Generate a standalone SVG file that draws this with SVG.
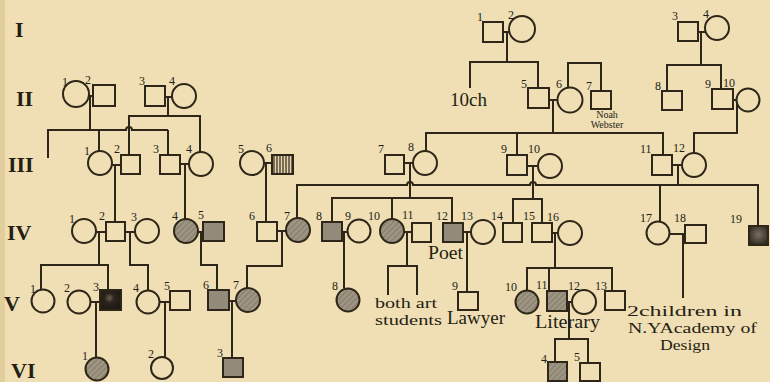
<svg xmlns="http://www.w3.org/2000/svg" width="770" height="382" viewBox="0 0 770 382">
<style>
.c{fill:none;stroke:#2e2618;stroke-width:2}
.o{fill:#f0dfb4;stroke:#2e2618;stroke-width:2}
.h{fill:url(#hatch);stroke:#2e2618;stroke-width:2}
.gr{fill:#938a7a;stroke:#2e2618;stroke-width:2}
.vh{fill:url(#vhatch);stroke:#2e2618;stroke-width:2}
.bk{fill:url(#dark);stroke:#2e2618;stroke-width:2}
.n{font-family:"Liberation Serif",serif;font-size:12px;fill:#241e14}
.g{font-family:"Liberation Serif",serif;font-size:22px;font-weight:bold;fill:#241e14}
.t{font-family:"Liberation Serif",serif;font-size:19px;fill:#241e14}
.m{font-family:"Liberation Serif",serif;font-size:15px;fill:#241e14}
.s{font-family:"Liberation Serif",serif;font-size:10px;fill:#241e14;text-anchor:middle}
</style>
<defs>
<pattern id="hatch" patternUnits="userSpaceOnUse" width="4" height="4" patternTransform="rotate(45)">
<rect width="4" height="4" fill="#8e8575"/>
<line x1="1" y1="0" x2="1" y2="4" stroke="#b3a992" stroke-width="1"/>
</pattern>
<pattern id="vhatch" patternUnits="userSpaceOnUse" width="3" height="3">
<rect width="3" height="3" fill="#e6d6ae"/>
<line x1="1" y1="0" x2="1" y2="3" stroke="#2e2618" stroke-width="1.2"/>
</pattern>
<radialGradient id="dark" cx="0.45" cy="0.4" r="0.6">
<stop offset="0" stop-color="#6a6152"/>
<stop offset="0.4" stop-color="#2a241b"/>
<stop offset="1" stop-color="#1e1a14"/>
</radialGradient>
<radialGradient id="dark2" cx="0.5" cy="0.45" r="0.6">
<stop offset="0" stop-color="#7a7060"/>
<stop offset="1" stop-color="#2e281f"/>
</radialGradient>
</defs>
<rect width="770" height="382" fill="#f0dfb4"/>
<rect width="5" height="382" fill="#e2cd9c"/>

<g id="generation-labels">
<text class="g" x="15" y="37">I</text>
<text class="g" x="16" y="106">II</text>
<text class="g" x="8" y="172">III</text>
<text class="g" x="7" y="240">IV</text>
<text class="g" x="4" y="311" font-size="25">V</text>
<text class="g" x="11" y="378">VI</text>
</g>

<g id="connectors" class="c">
<path d="M503,32 H509 M507,32 V62 M470,88 V62 H538 V88"/>
<path d="M698,32 H705 M701,32 V65 M667,91 V65 H721 V88"/>
<path d="M89,96 H93 M90,96 V130 M48,158 V130 H126 a3,3 0 0 1 6,0 H168 M99,130 V151 M168,130 V155"/>
<path d="M165,97 H172 M168,97 V116 M129,155 V116 H200 V152"/>
<path d="M549,100 H557.5 M553,100 V133 M426,151 V133 H663 V155 M517,133 V155"/>
<path d="M568,87.5 V63 H601 V91"/>
<path d="M733,100 H736.5 M737,100 V133 H694 V153"/>
<path d="M112,165 H121 M115,165 V222"/>
<path d="M180,164 H189 M185,164 V219"/>
<path d="M264,163 H272 M266,163 V222"/>
<path d="M404,163 H413 M410,163 V198 M332,222 V198 H452 V223 M392,198 V219"/>
<path d="M527,166 H538 M533,166 V199 M513,223 V199 H542 V223"/>
<path d="M672,165 H682 M678,165 V185 M297,218 V185 H407 a3,3 0 0 1 6,0 H530 a3,3 0 0 1 6,0 H758 V226 M660,185 V221.5"/>
<path d="M96,232 H106 M99,232 V265 M41,289.5 V265 H108 V290"/>
<path d="M125,232 H135 M130,232 V265 H148 V290.5"/>
<path d="M198,232 H203 M201,232 V265 H217 V290"/>
<path d="M277,231 H286 M282,231 V266 H247 V288"/>
<path d="M342,232 H347.5 M344,232 V288.5"/>
<path d="M404,232 H412 M407,232 V266 M388,295 V266 H417 V295"/>
<path d="M463,232 H471 M467,232 V292"/>
<path d="M552,233 H558 M555,233 V268 M527,290.5 V268 H612 V291 M549,268 V291"/>
<path d="M669.5,234 H685 M683,234 V298"/>
<path d="M90.5,302 H100 M96,302 V357"/>
<path d="M159.5,302 H170 M165,302 V357"/>
<path d="M229,301 H236 M232,301 V358"/>
<path d="M567,302 H572 M569,302 V339 M555,362 V339 H588 V363"/>
</g>

<g id="I-1"><rect class="o" x="483" y="22" width="20" height="20"/><text class="n" x="477" y="21">1</text></g>
<g id="I-2"><circle class="o" cx="522" cy="29" r="13"/><text class="n" x="508" y="19">2</text></g>
<g id="I-3"><rect class="o" x="678" y="22" width="20" height="19"/><text class="n" x="672" y="20">3</text></g>
<g id="I-4"><circle class="o" cx="717" cy="28" r="12"/><text class="n" x="703" y="18">4</text></g>

<g id="II-1"><circle class="o" cx="76" cy="94" r="13"/><text class="n" x="62" y="86">1</text></g>
<g id="II-2"><rect class="o" x="93" y="85" width="22" height="21"/><text class="n" x="85" y="84">2</text></g>
<g id="II-3"><rect class="o" x="145" y="86" width="20" height="20"/><text class="n" x="139" y="85">3</text></g>
<g id="II-4"><circle class="o" cx="184" cy="96" r="12"/><text class="n" x="169" y="85">4</text></g>
<g id="II-10ch"><text class="t" x="450" y="106" textLength="37" lengthAdjust="spacingAndGlyphs">10ch</text></g>
<g id="II-5"><rect class="o" x="528" y="88" width="21" height="20"/><text class="n" x="521" y="88">5</text></g>
<g id="II-6"><circle class="o" cx="570" cy="100" r="12.5"/><text class="n" x="556" y="88">6</text></g>
<g id="II-7"><rect class="o" x="591" y="91" width="20" height="18"/><text class="n" x="586" y="90">7</text>
<text class="s" x="607" y="118">Noah</text><text class="s" x="607" y="128">Webster</text></g>
<g id="II-8"><rect class="o" x="662" y="91" width="20" height="19"/><text class="n" x="655" y="90">8</text></g>
<g id="II-9"><rect class="o" x="712" y="89" width="21" height="20"/><text class="n" x="705" y="88">9</text></g>
<g id="II-10"><circle class="o" cx="748" cy="100" r="11.5"/><text class="n" x="723" y="87">10</text></g>

<g id="III-1"><circle class="o" cx="100" cy="163" r="12"/><text class="n" x="84" y="155">1</text></g>
<g id="III-2"><rect class="o" x="121" y="155" width="19" height="19"/><text class="n" x="114" y="153">2</text></g>
<g id="III-3"><rect class="o" x="160" y="155" width="20" height="19"/><text class="n" x="153" y="153">3</text></g>
<g id="III-4"><circle class="o" cx="201" cy="164" r="12"/><text class="n" x="186" y="153">4</text></g>
<g id="III-5"><circle class="o" cx="252" cy="163" r="12"/><text class="n" x="238" y="153">5</text></g>
<g id="III-6"><rect class="vh" x="272" y="155" width="21" height="19"/><text class="n" x="266" y="152">6</text></g>
<g id="III-7"><rect class="o" x="385" y="155" width="19" height="19"/><text class="n" x="378" y="153">7</text></g>
<g id="III-8"><circle class="o" cx="425" cy="163" r="12"/><text class="n" x="408" y="151">8</text></g>
<g id="III-9"><rect class="o" x="507" y="155" width="20" height="20"/><text class="n" x="501" y="153">9</text></g>
<g id="III-10"><circle class="o" cx="550" cy="166" r="12"/><text class="n" x="528" y="153">10</text></g>
<g id="III-11"><rect class="o" x="652" y="155" width="20" height="20"/><text class="n" x="640" y="153">11</text></g>
<g id="III-12"><circle class="o" cx="694" cy="165" r="12"/><text class="n" x="673" y="152">12</text></g>

<g id="IV-1"><circle class="o" cx="84" cy="231" r="12"/><text class="n" x="69" y="223">1</text></g>
<g id="IV-2"><rect class="o" x="106" y="222" width="19" height="19"/><text class="n" x="99" y="220">2</text></g>
<g id="IV-3"><circle class="o" cx="147" cy="231" r="12"/><text class="n" x="131" y="221">3</text></g>
<g id="IV-4"><circle class="h" cx="186" cy="231" r="12"/><text class="n" x="172" y="220">4</text></g>
<g id="IV-5"><rect class="gr" x="203" y="222" width="21" height="19"/><text class="n" x="198" y="219">5</text></g>
<g id="IV-6"><rect class="o" x="257" y="222" width="20" height="19"/><text class="n" x="249" y="220">6</text></g>
<g id="IV-7"><circle class="h" cx="298" cy="230" r="12"/><text class="n" x="284" y="220">7</text></g>
<g id="IV-8"><rect class="gr" x="322" y="222" width="20" height="19"/><text class="n" x="316" y="220">8</text></g>
<g id="IV-9"><circle class="o" cx="359" cy="231" r="11.5"/><text class="n" x="345" y="220">9</text></g>
<g id="IV-10"><circle class="h" cx="392" cy="231" r="12"/><text class="n" x="368" y="220">10</text></g>
<g id="IV-11"><rect class="o" x="412" y="223" width="19" height="19"/><text class="n" x="402" y="219">11</text></g>
<g id="IV-12"><rect class="gr" x="443" y="223" width="20" height="19"/><text class="n" x="436" y="220">12</text>
<text class="t" x="428" y="259" textLength="35" lengthAdjust="spacingAndGlyphs">Poet</text></g>
<g id="IV-13"><circle class="o" cx="483" cy="232" r="12"/><text class="n" x="461" y="220">13</text></g>
<g id="IV-14"><rect class="o" x="503" y="223" width="19" height="19"/><text class="n" x="491" y="220">14</text></g>
<g id="IV-15"><rect class="o" x="532" y="223" width="20" height="19"/><text class="n" x="523" y="220">15</text></g>
<g id="IV-16"><circle class="o" cx="570" cy="233" r="12"/><text class="n" x="547" y="221">16</text></g>
<g id="IV-17"><circle class="o" cx="658" cy="233" r="11.5"/><text class="n" x="640" y="222">17</text></g>
<g id="IV-18"><rect class="o" x="685" y="225" width="21" height="18"/><text class="n" x="674" y="222">18</text></g>
<g id="IV-19"><rect fill="url(#dark2)" stroke="#2e2618" stroke-width="2" x="749" y="226" width="19" height="19"/><text class="n" x="730" y="223">19</text></g>

<g id="V-1"><circle class="o" cx="43" cy="301" r="11.5"/><text class="n" x="30" y="293">1</text></g>
<g id="V-2"><circle class="o" cx="79" cy="302" r="11.5"/><text class="n" x="64" y="292">2</text></g>
<g id="V-3"><rect class="bk" x="100" y="290" width="21" height="20"/><text class="n" x="93" y="291">3</text></g>
<g id="V-4"><circle class="o" cx="148" cy="302" r="11.5"/><text class="n" x="133" y="292">4</text></g>
<g id="V-5"><rect class="o" x="170" y="291" width="20" height="19"/><text class="n" x="164" y="290">5</text></g>
<g id="V-6"><rect class="gr" x="208" y="290" width="21" height="20"/><text class="n" x="203" y="289">6</text></g>
<g id="V-7"><circle class="h" cx="248" cy="300" r="12"/><text class="n" x="233" y="289">7</text></g>
<g id="V-8"><circle class="h" cx="348" cy="300" r="11.5"/><text class="n" x="332" y="290">8</text></g>
<g id="V-both-art-students"><text class="m" x="375" y="308" textLength="62" lengthAdjust="spacingAndGlyphs">both art</text>
<text class="m" x="375" y="325" textLength="67" lengthAdjust="spacingAndGlyphs">students</text></g>
<g id="V-9"><rect class="o" x="458" y="292" width="20" height="18"/><text class="n" x="452" y="290">9</text>
<text class="t" x="447" y="324" textLength="58" lengthAdjust="spacingAndGlyphs">Lawyer</text></g>
<g id="V-10"><circle class="h" cx="527" cy="302" r="11.5"/><text class="n" x="505" y="291">10</text></g>
<g id="V-11"><rect class="h" x="547" y="291" width="20" height="20"/><text class="n" x="536" y="289">11</text>
<text class="t" x="535" y="328" textLength="65" lengthAdjust="spacingAndGlyphs">Literary</text></g>
<g id="V-12"><circle class="o" cx="584" cy="302" r="12"/><text class="n" x="568" y="290">12</text></g>
<g id="V-13"><rect class="o" x="605" y="291" width="20" height="19"/><text class="n" x="595" y="290">13</text></g>
<g id="V-2children"><text class="m" x="627" y="316" textLength="115" lengthAdjust="spacingAndGlyphs">2children in</text>
<text class="m" x="628" y="333" textLength="129" lengthAdjust="spacingAndGlyphs">N.YAcademy of</text>
<text class="m" x="660" y="350" textLength="50" lengthAdjust="spacingAndGlyphs">Design</text></g>

<g id="VI-1"><circle class="h" cx="97" cy="369" r="11.5"/><text class="n" x="82" y="360">1</text></g>
<g id="VI-2"><circle class="o" cx="162" cy="368" r="11"/><text class="n" x="148" y="358">2</text></g>
<g id="VI-3"><rect class="gr" x="223" y="358" width="20" height="19"/><text class="n" x="217" y="357">3</text></g>
<g id="VI-4"><rect class="h" x="548" y="362" width="19" height="19"/><text class="n" x="541" y="363">4</text></g>
<g id="VI-5"><rect class="o" x="580" y="363" width="20" height="18"/><text class="n" x="574" y="361">5</text></g>
</svg>
